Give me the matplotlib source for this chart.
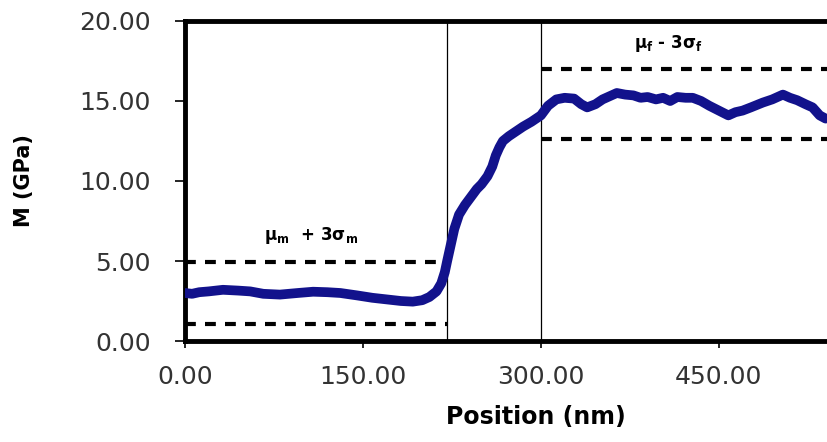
import numpy as np
import matplotlib
matplotlib.use("Agg")
import matplotlib.pyplot as plt

# modulus profile across the interphase
position = [0, 6, 12, 20, 32, 45, 55, 66, 80, 95, 108, 120, 131, 145, 158, 170,
            182, 192, 200, 206, 212, 216, 219, 221, 224, 227, 231, 236, 241, 246,
            250, 255, 259, 262, 265, 268, 273, 279, 285, 292, 300, 306, 313, 320,
            328, 334, 339, 346, 352, 358, 364, 371, 378, 384, 390, 397, 403, 409,
            415, 422, 428, 435, 442, 450, 458, 464, 470, 477, 487, 495, 504, 510,
            516, 523, 529, 535, 540]
modulus = [3.0, 2.95, 3.05, 3.1, 3.2, 3.15, 3.1, 2.95, 2.9, 3.0, 3.08, 3.05, 3.0,
           2.85, 2.7, 2.6, 2.5, 2.46, 2.55, 2.75, 3.1, 3.6, 4.3, 5.0, 6.0, 7.0,
           7.9, 8.5, 9.0, 9.5, 9.8, 10.3, 10.9, 11.6, 12.1, 12.5, 12.8, 13.1,
           13.4, 13.7, 14.1, 14.7, 15.1, 15.2, 15.15, 14.8, 14.6, 14.8, 15.1,
           15.3, 15.5, 15.4, 15.35, 15.2, 15.25, 15.1, 15.2, 15.0, 15.25, 15.2,
           15.2, 15.0, 14.7, 14.4, 14.1, 14.3, 14.4, 14.6, 14.9, 15.1, 15.4,
           15.2, 15.05, 14.8, 14.6, 14.1, 13.9]

# interphase boundaries (nm) and threshold bands (GPa)
boundaries = [221, 300]
matrix_band = [1.05, 4.95]    # mu_m +/- 3 sigma_m
fiber_band = [12.65, 17.0]    # mu_f +/- 3 sigma_f
x_max = 542

xticks = [0, 150, 300, 450]
yticks = [0, 5, 10, 15, 20]

fig = plt.figure(figsize=(8.28, 4.42), dpi=100)
ax = fig.add_axes([0.2234, 0.2285, 1.0 - 0.2234, 0.9525 - 0.2285])

ax.plot(position, modulus, color="#12128c", lw=7, solid_capstyle="round",
        solid_joinstyle="round", zorder=3)

for b in boundaries:
    ax.axvline(b, color="black", lw=0.9, zorder=2)

dash = (2.6, 2.2)
for yv in matrix_band:
    ax.plot([0, boundaries[0]], [yv, yv], color="black", lw=3, dashes=dash, zorder=2)
for yv in fiber_band:
    ax.plot([boundaries[1], x_max], [yv, yv], color="black", lw=3, dashes=dash, zorder=2)

ax.text(106, 6.6, r"$\mathbf{\mu_m}$  + 3$\mathbf{\sigma_m}$", fontsize=12,
        fontweight="bold", ha="center", va="center")
ax.text(407, 18.6, r"$\mathbf{\mu_f}$ - 3$\mathbf{\sigma_f}$", fontsize=12,
        fontweight="bold", ha="center", va="center")

ax.set_xlim(0, x_max)
ax.set_ylim(0, 20)
ax.set_xticks(xticks)
ax.set_yticks(yticks)
ax.set_xticklabels([f"{v:.2f}" for v in xticks])
ax.set_yticklabels([f"{v:.2f}" for v in yticks])

ax.tick_params(axis="y", direction="out", length=7.5, width=1.2, pad=17,
               labelsize=18, labelcolor="#333333")
ax.tick_params(axis="x", direction="out", length=5, width=1.2, pad=12,
               labelsize=18, labelcolor="#333333")

for side in ["left", "bottom", "top"]:
    ax.spines[side].set_linewidth(3.5)
    ax.spines[side].set_color("black")
ax.spines["right"].set_visible(False)

ax.set_xlabel("Position (nm)", fontsize=17, fontweight="bold")
ax.xaxis.set_label_coords((536 - 185) / (828 - 185), -(405 - 341) / 320)
ax.set_ylabel("M (GPa)", fontsize=15, fontweight="bold")
ax.yaxis.set_label_coords(-(185 - 34) / (828 - 185), 0.5)

fig.savefig("out.png", dpi=100)
